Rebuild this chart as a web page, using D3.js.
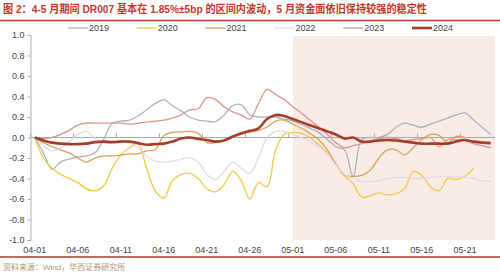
<!DOCTYPE html>
<html>
<head>
<meta charset="utf-8">
<script src="https://cdn.jsdelivr.net/npm/d3@7"></script>
<style>
  body { margin: 0; background: #fff; }
  svg { display: block; font-family: "Liberation Sans", Arial, "Noto Sans CJK SC", sans-serif; }
</style>
</head>
<body>
<svg width="500" height="277"></svg>
<script>
const svg = d3.select("svg");
const width = +svg.attr("width");
const height = +svg.attr("height");

// categories: 04-01 .. 05-24 (calendar days)
const dates = d3.timeDays(new Date(2024, 3, 1), new Date(2024, 4, 25)).map(d3.timeFormat("%m-%d"));
const tickLabels = ["04-01", "04-06", "04-11", "04-16", "04-21", "04-26", "05-01", "05-06", "05-11", "05-16", "05-21"];
const yTicks = [-1.0, -0.8, -0.6, -0.4, -0.2, 0.0, 0.2, 0.4, 0.6, 0.8, 1.0];
const shadeStart = "05-01";

const years = ["2019", "2020", "2021", "2022", "2023", "2024"];

const v2019 = [0, -0.15, -0.31, -0.24, -0.21, -0.19, -0.18, -0.15, -0.02, 0.14,
  0.16, 0.17, 0.21, 0.27, 0.33, 0.37, 0.31, 0.26, 0.2, 0.17,
  0.16, 0.155, 0.22, 0.31, 0.32, 0.22, 0.2, 0.2, 0.2, 0.18,
  0.16, 0.13, 0.09, 0.05, -0.02, -0.09, -0.12, -0.38, -0.02, 0.0,
  0.0, 0.03, 0.1, 0.14, 0.12, 0.1, 0.13, 0.16, 0.19, 0.22,
  0.24, 0.17, 0.1, 0.03];
const v2020 = [0, -0.2, -0.3, -0.36, -0.4, -0.44, -0.5, -0.52, -0.47, -0.3,
  -0.17, -0.1, -0.06, -0.3, -0.52, -0.59, -0.42, -0.36, -0.35, -0.4,
  -0.5, -0.53, -0.46, -0.33, -0.42, -0.6, -0.44, -0.48, -0.12, 0.03,
  0.05, 0.04, 0.0, -0.07, -0.15, -0.26, -0.37, -0.45, -0.58, -0.57,
  -0.54, -0.56, -0.55, -0.5, -0.33, -0.37, -0.48, -0.52, -0.4, -0.41,
  -0.38, -0.3, null, null];
const v2021 = [0, -0.05, -0.09, -0.12, -0.15, -0.2, -0.24, -0.2, -0.18, -0.18,
  -0.17, -0.16, -0.16, -0.13, -0.12, 0.02, 0.05, 0.055, 0.06, 0.04,
  -0.05, -0.05, -0.03, 0.0, 0.05, 0.05, 0.07, 0.1, 0.16, 0.17,
  0.13, 0.09, 0.04, -0.02, -0.12, -0.26, -0.37, -0.38, -0.37, -0.32,
  -0.2, -0.12, -0.12, -0.17, -0.1, -0.02, 0.03, 0.02, -0.05, 0.01,
  0.0, null, null, null];
const v2022 = [0, -0.08, -0.13, -0.1, -0.04, 0.03, 0.06, -0.01, -0.05, -0.05,
  -0.03, -0.04, -0.1, -0.18, -0.23, -0.24, -0.23, -0.21, -0.2, -0.24,
  -0.36, -0.41, -0.33, -0.24, -0.3, -0.35, -0.2, 0.0, 0.06, 0.06,
  0.03, 0.0, -0.04, -0.09, -0.16, -0.27, -0.36, -0.4, -0.43, -0.43,
  -0.42, -0.4, -0.39, -0.39, -0.4, -0.4, -0.39, -0.38, -0.38, -0.38,
  -0.39, -0.4, -0.42, -0.43];
const v2023 = [0, -0.01, 0.0, 0.03, 0.07, 0.12, 0.14, 0.14, 0.14, 0.14,
  0.14, 0.13, 0.14, 0.15, 0.16, 0.17, 0.19, 0.22, 0.27, 0.28,
  0.39, 0.37, 0.3, 0.25, 0.22, 0.18, 0.33, 0.47, 0.42, 0.37,
  0.3, 0.24, 0.17, 0.1, 0.03, -0.05, -0.1, -0.08, -0.06, -0.03,
  -0.01, 0.0, -0.01, -0.03, -0.02, -0.01, 0.0, -0.09, -0.02, -0.02,
  -0.03, -0.06, -0.08, -0.1];
const v2024 = [0, -0.03, -0.05, -0.06, -0.065, -0.065, -0.06, -0.045, -0.04, -0.045,
  -0.04, -0.04, -0.055, -0.07, -0.065, -0.06, -0.04, -0.01, 0.0, -0.015,
  -0.025, -0.04, -0.03, 0.01, 0.04, 0.065, 0.09, 0.18, 0.22, 0.21,
  0.18, 0.15, 0.12, 0.09, 0.06, 0.03, -0.01, 0.0, -0.04, -0.04,
  -0.03, -0.025, -0.03, -0.04, -0.05, -0.06, -0.06, -0.06, -0.06, -0.04,
  -0.025, -0.04, -0.05, -0.055];

const seriesValues = [v2019, v2020, v2021, v2022, v2023, v2024];
const colors = ["#aeb0c0", "#f3cb4c", "#d9a05e", "#e6d8e6", "#d9978a", "#a53d2b"];
const widths = [1.3, 1.4, 1.3, 1.3, 1.3, 2.6];

const margin = { left: 30.5, right: 5, top: 35, bottom: 37 };
const x = d3.scalePoint().domain(dates).range([margin.left, width - margin.right]).padding(0.5);
const y = d3.scaleLinear().domain([-1, 1]).range([height - margin.bottom, margin.top]);
const step = x.step();

// title
svg.append("text")
  .attr("x", 3).attr("y", 13)
  .attr("fill", "#c0392b")
  .attr("textLength", 424).attr("lengthAdjust", "spacingAndGlyphs")
  .style("font-size", "11px").style("font-weight", "bold")
  .text("图 2：4-5 月期间 DR007 基本在 1.85%±5bp 的区间内波动，5 月资金面依旧保持较强的稳定性");

svg.append("line")
  .attr("x1", 0).attr("x2", width).attr("y1", 20.5).attr("y2", 20.5)
  .attr("stroke", "#c0392b").attr("stroke-width", 1.5);

// shaded May region
svg.append("rect")
  .attr("x", x(shadeStart)).attr("y", y(1) + 1)
  .attr("width", width - margin.right - x(shadeStart))
  .attr("height", y(-1) - y(1) - 1)
  .attr("fill", "#f9ebe6");

// legend
const legend = svg.append("g");
years.forEach((yr, i) => {
  const lx = 68 + i * 68.8;
  legend.append("line")
    .attr("x1", lx).attr("x2", lx + 20).attr("y1", 28).attr("y2", 28)
    .attr("stroke", colors[i]).attr("stroke-width", widths[i]);
  legend.append("text")
    .attr("x", lx + 21).attr("y", 31)
    .attr("fill", "#444").style("font-size", "9px")
    .text(yr);
});

// y axis
const yAxis = svg.append("g")
  .attr("transform", `translate(${margin.left},0)`)
  .call(d3.axisLeft(y).tickValues(yTicks).tickFormat(d => d.toFixed(1)).tickSize(3).tickPadding(3));
yAxis.select(".domain").attr("stroke", "#b0b0b0");
yAxis.selectAll(".tick line").attr("stroke", "#b0b0b0");
yAxis.selectAll("text").attr("fill", "#444").style("font-size", "9px")
  .style("font-family", "'Liberation Sans', Arial, sans-serif");

// zero line with category ticks
svg.append("line")
  .attr("x1", margin.left).attr("x2", width - margin.right)
  .attr("y1", y(0)).attr("y2", y(0))
  .attr("stroke", "#a8a8b0").attr("stroke-width", 1);
svg.selectAll(".ztick").data(tickLabels).join("line")
  .attr("x1", d => x(d) - step / 2).attr("x2", d => x(d) - step / 2)
  .attr("y1", y(0)).attr("y2", y(0) - 4)
  .attr("stroke", "#a8a8b0");

// x labels
svg.selectAll(".xlab").data(tickLabels).join("text")
  .attr("x", d => x(d)).attr("y", height - 24)
  .attr("text-anchor", "middle")
  .attr("fill", "#444").style("font-size", "9px")
  .text(d => d);

// series
const line = d3.line()
  .defined(d => d.v !== null)
  .x(d => x(d.date))
  .y(d => y(d.v))
  .curve(d3.curveCatmullRom.alpha(0.5));

seriesValues.forEach((vals, i) => {
  svg.append("path")
    .datum(vals.map((v, j) => ({ date: dates[j], v: v })))
    .attr("d", line)
    .attr("fill", "none")
    .attr("stroke", colors[i])
    .attr("stroke-width", widths[i])
    .attr("stroke-linejoin", "round");
});

// footer
svg.append("line")
  .attr("x1", 0).attr("x2", width).attr("y1", 257).attr("y2", 257)
  .attr("stroke", "#a53d2b").attr("stroke-width", 1.5);
svg.append("text")
  .attr("x", 3).attr("y", 270)
  .attr("fill", "#b09070").style("font-size", "8px")
  .text("资料来源：Wind，华西证券研究所");
</script>
</body>
</html>
